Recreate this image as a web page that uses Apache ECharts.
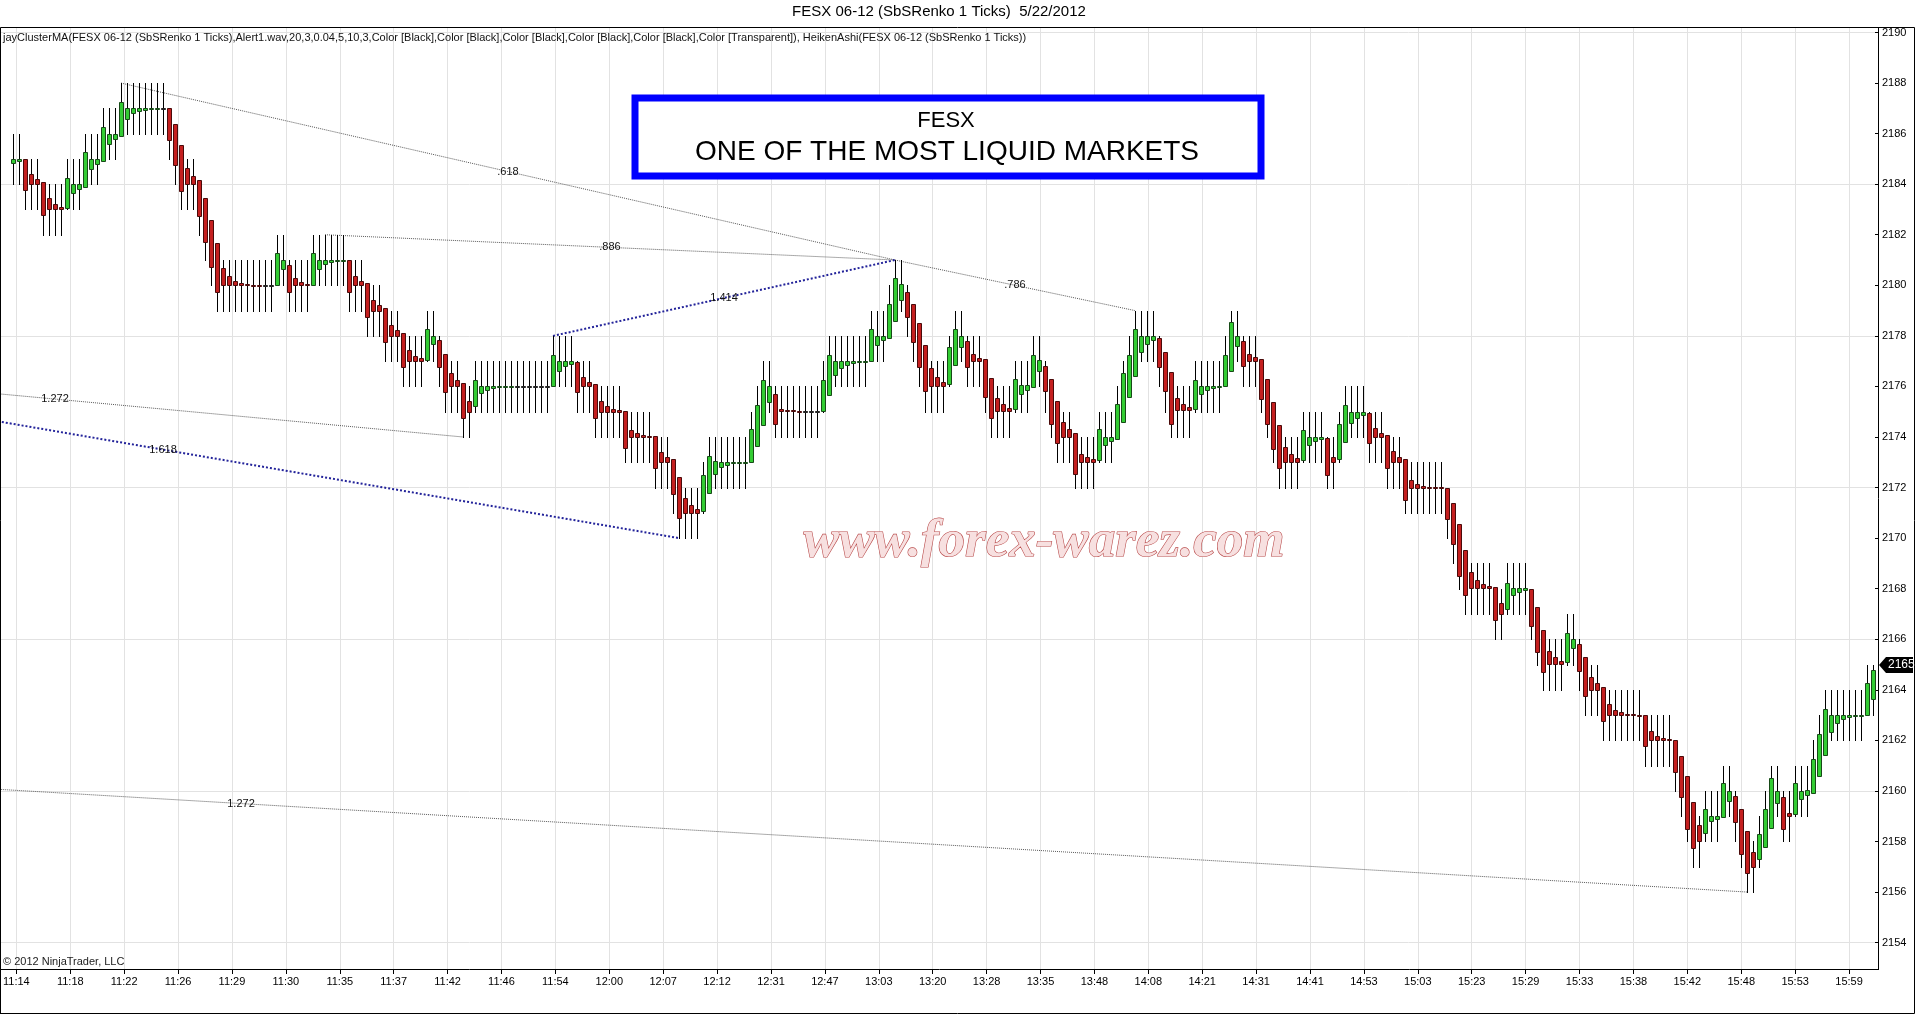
<!DOCTYPE html>
<html>
<head>
<meta charset="utf-8">
<script src="https://cdn.jsdelivr.net/npm/echarts@6/dist/echarts.min.js"></script>
<style>
html,body{margin:0;padding:0;background:#fff;}
#c{width:1920px;height:1015px;}
</style>
</head>
<body>
<div id="c"></div>
<script>
// ---- time labels (one every 9 bars) ----
const timeLabels = ['11:14','11:18','11:22','11:26','11:29','11:30','11:35','11:37','11:42','11:46','11:54','12:00','12:07','12:12','12:31','12:47','13:03','13:20','13:28','13:35','13:48','14:08','14:21','14:31','14:41','14:53','15:03','15:23','15:29','15:33','15:38','15:42','15:48','15:53','15:59'];

// ---- Heiken Ashi body open ----
const haOpen = [
2184.85,2184.93,2185.0,2184.4,2184.2,2184.1,2183.45,2183.22,2183.1,2183.05,
2183.64,2183.82,2183.9,2184.6,2184.8,2184.9,2185.58,2185.8,2185.9,2186.57,
2186.8,2186.9,2186.95,2186.98,2186.99,2187.0,2187.0,2186.37,2185.55,2184.65,
2184.33,2184.16,2183.46,2182.6,2181.67,2180.7,2180.35,2180.18,2180.09,2180.04,
2180.02,2180.01,2180.0,2180.0,2180.0,2180.64,2180.82,2180.28,2180.14,2180.07,
2180.03,2180.65,2180.83,2180.91,2180.96,2180.98,2181.0,2180.37,2180.19,2180.1,
2179.42,2179.21,2179.11,2178.43,2178.22,2178.11,2177.43,2177.22,2177.11,2177.05,
2177.66,2177.83,2177.3,2176.53,2176.27,2176.13,2175.44,2175.22,2175.74,2175.87,
2175.93,2175.97,2175.98,2175.99,2176.0,2176.0,2176.0,2176.0,2176.0,2176.0,
2176.0,2176.62,2176.81,2176.9,2176.95,2176.36,2176.18,2176.09,2175.42,2175.21,
2175.1,2175.05,2175.03,2174.29,2174.15,2174.07,2174.04,2174.02,2173.4,2173.21,
2173.11,2172.43,2171.6,2171.3,2171.15,2171.08,2171.8,2172.53,2172.8,2172.91,
2172.96,2172.98,2172.99,2173.0,2173.65,2174.46,2175.37,2175.7,2175.12,2175.08,
2175.05,2175.04,2175.03,2175.03,2175.03,2175.03,2175.65,2176.45,2176.73,2176.86,
2176.93,2176.97,2176.98,2176.99,2177.63,2177.82,2177.91,2178.6,2179.43,2179.74,
2179.25,2178.5,2177.64,2176.72,2176.37,2176.19,2176.11,2176.83,2177.56,2177.78,
2177.28,2177.14,2177.07,2176.33,2175.55,2175.29,2175.16,2175.1,2175.7,2175.87,
2175.96,2176.6,2176.82,2176.31,2175.42,2174.6,2174.3,2174.15,2173.34,2173.19,
2173.11,2173.07,2173.69,2173.85,2173.92,2174.61,2175.58,2176.41,2177.35,2177.67,
2177.84,2177.92,2177.35,2176.58,2175.56,2175.31,2175.18,2175.12,2175.69,2175.86,
2175.94,2175.98,2176.0,2176.62,2177.58,2177.79,2177.3,2177.15,2177.08,2176.29,
2175.4,2174.46,2173.62,2173.31,2173.16,2173.08,2173.67,2173.84,2173.92,2173.96,
2173.22,2173.11,2173.8,2174.54,2174.77,2174.88,2174.94,2174.35,2174.17,2174.09,
2173.43,2173.22,2173.11,2172.31,2172.16,2172.08,2172.04,2172.02,2172.01,2172.0,
2171.38,2170.57,2169.54,2168.65,2168.34,2168.18,2168.1,2168.06,2167.42,2167.21,
2167.73,2167.88,2167.95,2167.98,2167.26,2166.37,2165.55,2165.28,2165.15,2165.08,
2165.66,2165.83,2165.28,2164.51,2164.26,2164.13,2163.44,2163.22,2163.11,2163.05,
2163.03,2163.01,2163.0,2162.38,2162.19,2162.1,2162.05,2162.02,2161.39,2160.58,
2159.55,2158.66,2158.34,2158.8,2158.9,2158.95,2159.62,2159.81,2159.29,2158.4,
2157.57,2157.29,2157.79,2158.54,2159.54,2159.77,2159.14,2159.08,2159.69,2159.85,
2159.93,2160.6,2161.44,2162.35,2162.68,2162.84,2162.92,2162.96,2162.98,2162.99,
2163.64];

// ---- Heiken Ashi body close ----
const haClose = [
2185.0,2185.0,2183.78,2184.0,2184.0,2182.8,2183.0,2183.0,2183.0,2184.24,
2184.0,2184.0,2185.27,2185.0,2185.0,2186.25,2186.0,2186.0,2187.24,2187.0,
2187.0,2187.0,2187.0,2187.0,2187.0,2187.0,2185.73,2184.74,2183.75,2184.0,
2184.0,2182.76,2181.73,2180.74,2179.75,2180.0,2180.0,2180.0,2180.0,2180.0,
2180.0,2180.0,2180.0,2180.0,2181.27,2181.0,2179.75,2180.0,2180.0,2180.0,
2181.27,2181.0,2181.0,2181.0,2181.0,2181.0,2179.75,2180.0,2180.0,2178.74,
2179.0,2179.0,2177.75,2178.0,2178.0,2176.76,2177.0,2177.0,2177.0,2178.26,
2178.0,2176.76,2175.77,2176.0,2176.0,2174.74,2175.0,2176.26,2176.0,2176.0,
2176.0,2176.0,2176.0,2176.0,2176.0,2176.0,2176.0,2176.0,2176.0,2176.0,
2177.25,2177.0,2177.0,2177.0,2175.77,2176.0,2176.0,2174.74,2175.0,2175.0,
2175.0,2175.0,2173.55,2174.0,2174.0,2174.0,2174.0,2172.77,2173.02,2173.02,
2171.76,2170.78,2171.0,2171.0,2171.0,2172.5,2173.25,2173.05,2173.02,2173.02,
2173.0,2173.0,2173.0,2174.3,2175.27,2176.26,2176.02,2174.53,2175.03,2175.03,
2175.03,2175.03,2175.03,2175.03,2175.03,2176.26,2177.25,2177.0,2177.0,2177.0,
2177.0,2177.0,2177.0,2178.26,2178.0,2178.0,2179.28,2180.27,2180.04,2178.75,
2177.76,2176.77,2175.8,2176.02,2176.02,2176.02,2177.54,2178.29,2178.0,2176.77,
2177.0,2177.0,2175.58,2174.77,2175.03,2175.03,2175.03,2176.29,2176.05,2176.05,
2177.25,2177.04,2175.8,2174.53,2173.78,2174.0,2174.0,2172.53,2173.03,2173.03,
2173.03,2174.31,2174.0,2174.0,2175.3,2176.55,2177.25,2178.29,2178.0,2178.0,
2178.0,2176.77,2175.8,2174.53,2175.06,2175.06,2175.06,2176.26,2176.02,2176.02,
2176.02,2176.0,2177.25,2178.53,2178.0,2176.81,2177.0,2177.0,2175.49,2174.5,
2173.52,2172.77,2173.0,2173.0,2173.0,2174.26,2174.0,2174.0,2174.0,2172.48,
2173.0,2174.5,2175.27,2175.0,2175.0,2175.0,2173.75,2174.0,2174.0,2172.77,
2173.0,2173.0,2171.51,2172.0,2172.0,2172.0,2172.0,2172.0,2172.0,2170.75,
2169.76,2168.51,2167.75,2168.02,2168.02,2168.02,2168.02,2166.77,2167.0,2168.24,
2168.02,2168.02,2168.02,2166.53,2165.49,2164.72,2165.01,2165.01,2165.01,2166.24,
2166.0,2164.73,2163.74,2164.0,2164.0,2162.75,2163.0,2163.0,2163.0,2163.0,
2163.0,2163.0,2161.76,2162.0,2162.0,2162.0,2162.0,2160.75,2159.77,2158.51,
2157.76,2158.02,2159.27,2159.0,2159.0,2160.3,2160.0,2158.77,2157.5,2156.74,
2157.0,2158.29,2159.28,2160.53,2160.0,2158.51,2159.01,2160.3,2160.0,2160.02,
2161.28,2162.27,2163.26,2163.0,2163.0,2163.0,2163.0,2163.0,2163.0,2164.28,
2164.77];

// ---- bar range (black vertical lines) low / high ----
const lineLow = [
2184,2184,2183,2183,2183,2182,2182,2182,2182,2183,
2183,2183,2184,2184,2184,2185,2185,2185,2186,2186,
2186,2186,2186,2186,2186,2186,2185,2184,2183,2183,
2183,2182,2181,2180,2179,2179,2179,2179,2179,2179,
2179,2179,2179,2179,2180,2180,2179,2179,2179,2179,
2180,2180,2180,2180,2180,2180,2179,2179,2179,2178,
2178,2178,2177,2177,2177,2176,2176,2176,2176,2177,
2177,2176,2175,2175,2175,2174,2174,2175,2175,2175,
2175,2175,2175,2175,2175,2175,2175,2175,2175,2175,
2176,2176,2176,2176,2175,2175,2175,2174,2174,2174,
2174,2174,2173,2173,2173,2173,2173,2172,2172,2172,
2171,2170,2170,2170,2170,2171,2172,2172,2172,2172,
2172,2172,2172,2173,2174,2175,2175,2174,2174,2174,
2174,2174,2174,2174,2174,2175,2176,2176,2176,2176,
2176,2176,2176,2177,2177,2177,2178,2179,2179,2178,
2177,2176,2175,2175,2175,2175,2176,2177,2177,2176,
2176,2176,2175,2174,2174,2174,2174,2175,2175,2175,
2176,2176,2175,2174,2173,2173,2173,2172,2172,2172,
2172,2173,2173,2173,2174,2175,2176,2177,2177,2177,
2177,2176,2175,2174,2174,2174,2174,2175,2175,2175,
2175,2175,2176,2177,2177,2176,2176,2176,2175,2174,
2173,2172,2172,2172,2172,2173,2173,2173,2173,2172,
2172,2173,2174,2174,2174,2174,2173,2173,2173,2172,
2172,2172,2171,2171,2171,2171,2171,2171,2171,2170,
2169,2168,2167,2167,2167,2167,2167,2166,2166,2167,
2167,2167,2167,2166,2165,2164,2164,2164,2164,2165,
2165,2164,2163,2163,2163,2162,2162,2162,2162,2162,
2162,2162,2161,2161,2161,2161,2161,2160,2159,2158,
2157,2157,2158,2158,2158,2159,2159,2158,2157,2156,
2156,2157,2158,2159,2159,2158,2158,2159,2159,2159,
2160,2161,2162,2162,2162,2162,2162,2162,2162,2163,
2163];
const lineHigh = [
2186,2186,2185,2185,2185,2184,2184,2184,2184,2185,
2185,2185,2186,2186,2186,2187,2187,2187,2188,2188,
2188,2188,2188,2188,2188,2188,2187,2186,2185,2185,
2185,2184,2183,2182,2181,2181,2181,2181,2181,2181,
2181,2181,2181,2181,2182,2182,2181,2181,2181,2181,
2182,2182,2182,2182,2182,2182,2181,2181,2181,2180,
2180,2180,2179,2179,2179,2178,2178,2178,2178,2179,
2179,2178,2177,2177,2177,2176,2176,2177,2177,2177,
2177,2177,2177,2177,2177,2177,2177,2177,2177,2177,
2178,2178,2178,2178,2177,2177,2177,2176,2176,2176,
2176,2176,2175,2175,2175,2175,2175,2174,2174,2174,
2173,2172,2172,2172,2172,2173,2174,2174,2174,2174,
2174,2174,2174,2175,2176,2177,2177,2176,2176,2176,
2176,2176,2176,2176,2176,2177,2178,2178,2178,2178,
2178,2178,2178,2179,2179,2179,2180,2181,2181,2180,
2179,2178,2177,2177,2177,2177,2178,2179,2179,2178,
2178,2178,2177,2176,2176,2176,2176,2177,2177,2177,
2178,2178,2177,2176,2175,2175,2175,2174,2174,2174,
2174,2175,2175,2175,2176,2177,2178,2179,2179,2179,
2179,2178,2177,2176,2176,2176,2176,2177,2177,2177,
2177,2177,2178,2179,2179,2178,2178,2178,2177,2176,
2175,2174,2174,2174,2174,2175,2175,2175,2175,2174,
2174,2175,2176,2176,2176,2176,2175,2175,2175,2174,
2174,2174,2173,2173,2173,2173,2173,2173,2173,2172,
2171,2170,2169,2169,2169,2169,2169,2168,2168,2169,
2169,2169,2169,2168,2167,2166,2166,2166,2166,2167,
2167,2166,2165,2165,2165,2164,2164,2164,2164,2164,
2164,2164,2163,2163,2163,2163,2163,2162,2161,2160,
2159,2159,2160,2160,2160,2161,2161,2160,2159,2158,
2158,2159,2160,2161,2161,2160,2160,2161,2161,2161,
2162,2163,2164,2164,2164,2164,2164,2164,2164,2165,
2165];

// ---- ratio lines (bar index, price) ----
const fibLabels = ['.618', '.786', '.886', '1.414', '1.272', '1.618', '1.272'];
const fibStart  = [[18, 2188], [147, 2181], [52, 2182], [90, 2178], [-61, 2177], [-61, 2177], [-213, 2163]];
const fibEnd    = [[147, 2181], [187, 2179], [147, 2181], [147, 2181], [75, 2174], [111, 2170], [289, 2156]];
const fibBlue   = [false, false, false, true, false, true, false];

const lastPrice = 2165;

// ---------------------------------------------------------------
const N = haOpen.length;
const catData = [];
for (let i = 0; i < N; i++) catData.push(i % 9 === 0 ? timeLabels[i / 9] : '');
const barData = [];
for (let i = 0; i < N; i++) barData.push([i, haOpen[i], haClose[i], lineLow[i], lineHigh[i]]);
const fibData = fibLabels.map((l, k) => [fibStart[k][0], fibStart[k][1], fibEnd[k][0], fibEnd[k][1]]);

const GREEN = '#33cc33', GREEN_B = '#174a17';
const RED = '#c41f1f', RED_B = '#4a0a0a';

function renderBar(params, api) {
  const i = api.value(0), o = api.value(1), c = api.value(2), lo = api.value(3), hi = api.value(4);
  const pO = api.coord([i, o]), pC = api.coord([i, c]);
  const pL = api.coord([i, lo]), pH = api.coord([i, hi]);
  const x = Math.round(pO[0]);
  let top = Math.round(Math.min(pO[1], pC[1])) + 0.5;
  let bot = Math.round(Math.max(pO[1], pC[1])) + 0.5;
  if (bot - top < 1) bot = top + 1;
  const up = c > o + 0.004, down = c < o - 0.004;
  const fill = up ? GREEN : (down ? RED : '#222');
  const stroke = up ? GREEN_B : (down ? RED_B : '#222');
  return {
    type: 'group',
    children: [
      { type: 'line', shape: { x1: x + 0.5, y1: Math.round(pH[1]), x2: x + 0.5, y2: Math.round(pL[1]) + 1 },
        style: { stroke: '#000', lineWidth: 1 } },
      { type: 'rect', shape: { x: x - 1.5, y: top, width: 4, height: bot - top },
        style: { fill: fill, stroke: stroke, lineWidth: 1 } }
    ]
  };
}

function renderFib(params, api) {
  const k = params.dataIndex;
  const p1 = api.coord([api.value(0), api.value(1)]);
  const p2 = api.coord([api.value(2), api.value(3)]);
  const blue = fibBlue[k];
  return {
    type: 'group',
    children: [
      { type: 'line', shape: { x1: p1[0], y1: p1[1], x2: p2[0], y2: p2[1] },
        style: blue ? { stroke: '#23239a', lineWidth: 2, lineDash: [2, 2] }
                    : { stroke: '#5a5a5a', lineWidth: 1, lineDash: [1, 1] } },
      { type: 'text', x: (p1[0] + p2[0]) / 2, y: (p1[1] + p2[1]) / 2,
        style: { text: fibLabels[k], align: 'center', verticalAlign: 'middle',
                 font: '11px Arial', fill: '#111' } }
    ]
  };
}

const chart = echarts.init(document.getElementById('c'), null, { renderer: 'canvas' });

chart.setOption({
  animation: false,
  backgroundColor: '#ffffff',
  textStyle: { fontFamily: 'Arial, "Liberation Sans", sans-serif' },
  grid: [
    { left: 0, top: 32.5, width: 1878, height: 910.1 },
    { left: 13, top: 27, width: 1860, height: 942 }
  ],
  xAxis: [
    { type: 'value', gridIndex: 0, min: -13 / 6, max: (1878 - 13) / 6, show: false,
      axisLine: { show: false, onZero: false } },
    { type: 'category', gridIndex: 1, data: catData, boundaryGap: false,
      axisLine: { show: false, onZero: false },
      axisTick: { show: true, interval: 8, length: 5, lineStyle: { color: '#000' } },
      axisLabel: { interval: 8, margin: 7, fontSize: 11, color: '#000' },
      splitLine: { show: true, interval: 8, lineStyle: { color: '#e2e2e2', width: 1 } } }
  ],
  yAxis: [
    { type: 'value', gridIndex: 0, position: 'right', min: 2154, max: 2190, interval: 2,
      axisLine: { show: false, onZero: false },
      axisTick: { show: true, inside: true, length: 3, lineStyle: { color: '#000' } },
      axisLabel: { fontSize: 11, color: '#000', margin: 4, formatter: v => String(v) },
      splitLine: { show: false } },
    { type: 'value', gridIndex: 1, show: false, min: 0, max: 1, axisLine: { onZero: false } },
    { type: 'value', gridIndex: 0, position: 'left', min: 2154, max: 2190, interval: 6,
      axisLine: { show: false, onZero: false }, axisTick: { show: false }, axisLabel: { show: false },
      splitLine: { show: true, lineStyle: { color: '#e2e2e2', width: 1 } } }
  ],
  series: [
    { type: 'custom', name: 'fib', xAxisIndex: 0, yAxisIndex: 0, clip: true,
      data: fibData, encode: { x: [0, 2], y: [1, 3] }, renderItem: renderFib, z: 3, silent: true },
    { type: 'custom', name: 'HeikenAshi', xAxisIndex: 0, yAxisIndex: 0, clip: true,
      data: barData, encode: { x: 0, y: [1, 2, 3, 4] }, renderItem: renderBar, z: 5, silent: true }
  ]
});

// annotations
const yLast = chart.convertToPixel({ yAxisIndex: 0 }, lastPrice);
const yl = Math.round(yLast);
chart.setOption({
  graphic: [
    { type: 'text', x: 939, y: 12, z: 10,
      style: { text: 'FESX 06-12 (SbSRenko 1 Ticks)  5/22/2012', font: '15px Arial', fill: '#000', align: 'center', verticalAlign: 'middle' } },
    { type: 'text', x: 3, y: 38, z: 10,
      style: { text: 'jayClusterMA(FESX 06-12 (SbSRenko 1 Ticks),Alert1.wav,20,3,0.04,5,10,3,Color [Black],Color [Black],Color [Black],Color [Black],Color [Black],Color [Transparent]), HeikenAshi(FESX 06-12 (SbSRenko 1 Ticks))',
               font: '11px Arial', fill: '#111', align: 'left', verticalAlign: 'middle' } },
    { type: 'text', x: 3, y: 962, z: 10,
      style: { text: '\u00A9 2012 NinjaTrader, LLC', font: '11px Arial', fill: '#222', align: 'left', verticalAlign: 'middle' } },
    { type: 'polyline', z: 20, shape: { points: [[0.5, 1014], [0.5, 27.5], [1914.5, 27.5], [1914.5, 1013.5], [0.5, 1013.5]] },
      style: { stroke: '#000', lineWidth: 1, fill: null } },
    { type: 'line', z: 20, shape: { x1: 0, y1: 969.5, x2: 1879, y2: 969.5 }, style: { stroke: '#000', lineWidth: 1 } },
    { type: 'line', z: 20, shape: { x1: 1878.5, y1: 27, x2: 1878.5, y2: 970 }, style: { stroke: '#000', lineWidth: 1 } },
    { type: 'rect', z: 10, shape: { x: 635, y: 98, width: 626, height: 78 },
      style: { fill: '#fff', stroke: '#0000ff', lineWidth: 7 } },
    { type: 'text', x: 946, y: 121, z: 11,
      style: { text: 'FESX', font: '22px Arial', fill: '#000', align: 'center', verticalAlign: 'middle' } },
    { type: 'text', x: 947, y: 152, z: 11,
      style: { text: 'ONE OF THE MOST LIQUID MARKETS', font: '28px Arial', fill: '#000', align: 'center', verticalAlign: 'middle' } },
    { type: 'text', x: 1044, y: 542, z: 12,
      style: { text: 'www.forex-warez.com', font: 'bold italic 53px "Liberation Serif"', fill: '#f7e0e0', stroke: '#b84848', lineWidth: 1.2,
               align: 'center', verticalAlign: 'middle', shadowBlur: 3, shadowColor: 'rgba(0,0,0,0.5)', shadowOffsetX: 3, shadowOffsetY: 4 } },
    { type: 'polygon', z: 21, shape: { points: [[1879, yl], [1886, yl - 8], [1913, yl - 8], [1913, yl + 8], [1886, yl + 8]] },
      style: { fill: '#000' } },
    { type: 'text', x: 1888, y: yl, z: 22,
      style: { text: String(lastPrice), font: '12px Arial', fill: '#fff', align: 'left', verticalAlign: 'middle' } }
  ]
});
</script>
</body>
</html>
